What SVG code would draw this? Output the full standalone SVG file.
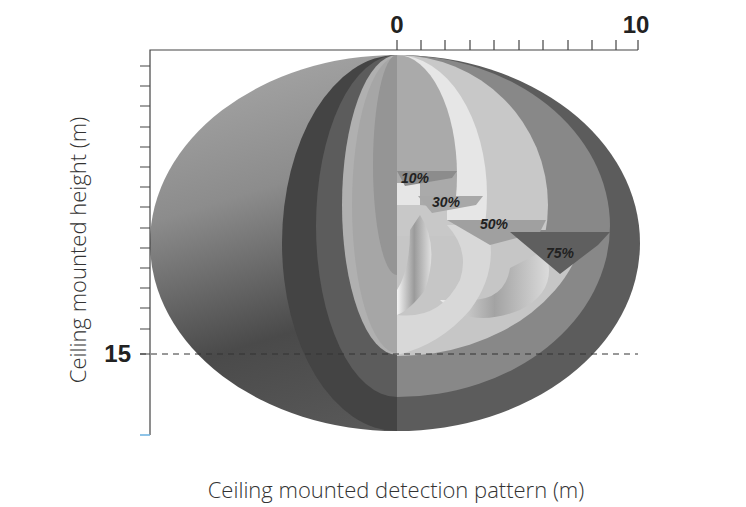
<svg xmlns="http://www.w3.org/2000/svg" width="746" height="507" viewBox="0 0 746 507">
<style>
.ax{stroke:#444;stroke-width:1.2;fill:none}
.lbl{font-family:"Liberation Sans",Arial,sans-serif;font-weight:bold;font-style:italic;font-size:14px;fill:#222}
.num{font-family:"Liberation Sans",Arial,sans-serif;font-weight:bold;font-size:24px;fill:#222}
.ttl{font-family:"Open Sans",sans-serif;font-weight:300;font-size:22px;fill:#333}
</style>
<defs>
<linearGradient id="lg" x1="0.1" y1="0" x2="0.5" y2="1">
<stop offset="0" stop-color="#a8a8a8"/><stop offset="0.35" stop-color="#8c8c8c"/><stop offset="0.7" stop-color="#4a4a4a"/><stop offset="1" stop-color="#5a5a5a"/>
</linearGradient>
<linearGradient id="cav" x1="0" y1="0" x2="1" y2="0">
<stop offset="0" stop-color="#f4f4f4"/><stop offset="0.5" stop-color="#9a9a9a"/><stop offset="1" stop-color="#e0e0e0"/>
</linearGradient>
<clipPath id="L"><rect x="0" y="0" width="397" height="507"/></clipPath>
<clipPath id="R"><rect x="397" y="0" width="349" height="507"/></clipPath>
<clipPath id="low"><polygon points="397,232 610,232 746,232 746,507 397,507"/></clipPath>
<clipPath id="c50"><polygon points="397,0 746,0 746,232 610,232 590,262 548,250 548,230 397,230"/></clipPath>
<clipPath id="c30"><polygon points="397,0 746,0 746,207 548,207 530,232 447,220 447,205 397,205"/></clipPath>
<clipPath id="c10"><polygon points="397,0 746,0 746,185 487,185 470,210 420,205 420,183 397,183"/></clipPath>
</defs>
<g id="left-half" clip-path="url(#L)">
<ellipse cx="397" cy="243" rx="247" ry="188" fill="url(#lg)"/>
<ellipse cx="397" cy="243" rx="115" ry="188" fill="#444"/>
<ellipse cx="397" cy="226" rx="81" ry="171" fill="#5c5c5c"/>
<ellipse cx="397" cy="205" rx="55" ry="150" fill="#b0b0b0"/>
<ellipse cx="397" cy="205" rx="45" ry="148" fill="#a6a6a6"/>
<ellipse cx="397" cy="165" rx="24" ry="110" fill="#959595"/>
</g>
<g id="right-half" clip-path="url(#R)">
<ellipse cx="397" cy="243" rx="243" ry="188" fill="#5c5c5c"/>
<ellipse cx="397" cy="226" rx="213" ry="171" fill="#888"/>
<ellipse cx="397" cy="208" rx="190" ry="148" fill="#c6c6c6" clip-path="url(#low)"/>
<ellipse cx="397" cy="205" rx="151" ry="150" fill="#c8c8c8" clip-path="url(#c50)"/>
<rect x="397" y="226" width="60" height="10" fill="#c8c8c8"/>
<path d="M440,300 Q470,330 520,310 Q560,290 545,250 L510,268 Q505,300 470,300 Z" fill="url(#cav)" opacity="0.8"/>
<ellipse cx="397" cy="195" rx="90" ry="140" fill="#e6e6e6" clip-path="url(#c30)"/>
<path d="M397,315 Q440,320 460,280 Q470,250 447,225 L487,225 Q500,270 470,310 Q440,345 397,355 Z" fill="#d8d8d8"/>
<path d="M420,215 Q440,245 425,290 Q410,310 397,315 L397,290 Q410,270 410,230 Z" fill="url(#cav)"/>
<ellipse cx="397" cy="175" rx="60" ry="120" fill="#aaa" clip-path="url(#c10)"/>
</g>
<g id="planes">
<polygon points="397,171 457,171 452,178 405,186" fill="#8c8c8c"/>
<polygon points="418,196 483,196 476,205 432,213" fill="#a8a8a8"/>
<polygon points="447,220 546,220 540,232 490,245" fill="#a0a0a0"/>
<polygon points="510,232 610,232 598,245 560,274" fill="#5f5f5f"/>
</g>
<g id="labels">
<text class="lbl" x="401" y="183">10%</text>
<text class="lbl" x="432" y="207">30%</text>
<text class="lbl" x="480" y="229">50%</text>
<text class="lbl" x="546" y="258">75%</text>
</g>
<g id="axes">
<path class="ax" d="M150,435 V50 H638"/>
<path class="ax" d="M397,40V50M421,40V50M445,40V50M470,40V50M494,40V50M519,40V50M543,40V50M568,40V50M592,40V50M616,40V50M638,40V50"/>
<path class="ax" d="M140,66H150M140,86H150M140,106H150M140,127H150M140,147H150M140,167H150M140,187H150M140,207H150M140,228H150M140,248H150M140,268H150M140,288H150M140,308H150M140,329H150M140,354H150"/>
<path d="M140,435H150" stroke="#6ab0e0" stroke-width="1.5"/>
<path d="M140,354H638" stroke="#333" stroke-width="1" stroke-dasharray="6,5"/>
<text class="num" x="397" y="33" text-anchor="middle">0</text>
<text class="num" x="636" y="33" text-anchor="middle">10</text>
<text class="num" x="131" y="362" text-anchor="end">15</text>
<text class="ttl" x="396" y="498" text-anchor="middle">Ceiling mounted detection pattern (m)</text>
<text class="ttl" transform="translate(86,250) rotate(-90)" text-anchor="middle">Ceiling mounted height (m)</text>
</g>
</svg>
